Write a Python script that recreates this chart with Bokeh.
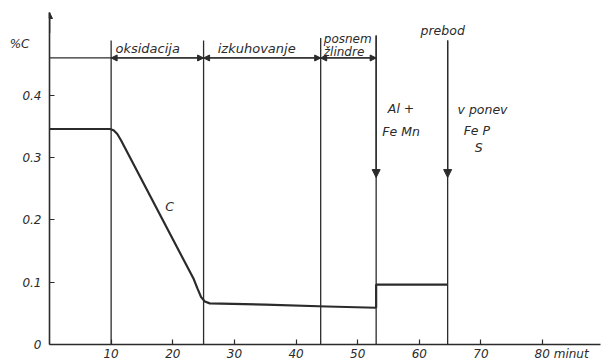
from bokeh.plotting import figure
from bokeh.models import Range1d, FixedTicker, LinearAxis, Arrow, NormalHead, ColumnDataSource
from bokeh.core.properties import value
from bokeh.embed import file_html
from bokeh.resources import INLINE

# ---- data ----
minutes = [0, 9.8, 10.4, 11.0, 11.6, 23.4, 24.0, 24.6, 25.2, 26.0, 35, 45, 53]
carbon = [0.346, 0.346, 0.344, 0.338, 0.328, 0.105, 0.090, 0.076, 0.069, 0.066, 0.064, 0.061, 0.059]
step_minutes = [53, 53, 64.6]
step_carbon = [0.059, 0.096, 0.096]

boundaries = [10, 25, 44, 53, 64.6]
boundary_tops = [0.488, 0.488, 0.492, 0.496, 0.488]
phase_line_y = 0.46
phase_start = [10, 25, 44]
phase_end = [25, 44, 53]
phase_labels = ["oksidacija", "izkuhovanje", "posnem", "žlindre"]
phase_label_x = [10.7, 27.3, 44.5, 44.5]
phase_label_y = [0.463, 0.463, 0.491, 0.470]

addition_minutes = [53, 64.6]
addition_arrow_y = 0.268

notes = ["prebod", "Al +", "Fe Mn", "v ponev", "Fe P", "S", "C"]
note_x = [60.2, 54.9, 54.0, 66.2, 67.2, 69.0, 18.8]
note_y = [0.504, 0.379, 0.342, 0.378, 0.344, 0.317, 0.221]

x_ticks = [10, 20, 30, 40, 50, 60, 70, 80]
x_tick_labels = {80: "\u00a0" * 10 + "80 minut"}
y_ticks = [0, 0.1, 0.2, 0.3, 0.4]
y_tick_labels = {0: "0", 0.1: "0.1", 0.2: "0.2", 0.3: "0.3", 0.4: "0.4"}
y_unit_tick = [0.483]
y_unit_label = {0.483: "%C"}

INK = "#2b2b2b"
FONT = "DejaVu Sans"

p = figure(width=609, height=363, output_backend="svg", toolbar_location=None,
           x_range=Range1d(0, 89.4), y_range=Range1d(0, 0.533),
           min_border_left=49, min_border_right=9, min_border_top=12, min_border_bottom=18)
p.outline_line_color = None
p.grid.visible = False
p.background_fill_color = "white"
p.border_fill_color = "white"


def style_axis(ax):
    ax.axis_line_color = INK
    ax.axis_line_width = 1.6
    ax.major_tick_line_color = INK
    ax.major_tick_line_width = 1.2
    ax.major_tick_in = 5
    ax.major_tick_out = 0
    ax.minor_tick_line_color = None
    ax.major_label_text_font = FONT
    ax.major_label_text_font_style = "italic"
    ax.major_label_text_font_size = "12px"
    ax.major_label_text_color = INK


style_axis(p.xaxis[0])
style_axis(p.yaxis[0])
p.xaxis.ticker = FixedTicker(ticks=x_ticks)
p.xaxis.major_label_overrides = x_tick_labels
p.xaxis.major_label_standoff = 2
p.yaxis[0].ticker = FixedTicker(ticks=y_ticks)
p.yaxis[0].major_label_overrides = y_tick_labels
p.yaxis[0].major_label_standoff = 8

# unit label "%C" as a tick-less second left axis
unit_axis = LinearAxis(ticker=FixedTicker(ticks=y_unit_tick), major_label_overrides=y_unit_label)
style_axis(unit_axis)
unit_axis.axis_line_color = None
unit_axis.major_tick_line_color = None
unit_axis.major_label_standoff = -10
p.add_layout(unit_axis, "left")

# vertical phase lines
p.segment(x0=boundaries, y0=[0] * len(boundaries), x1=boundaries, y1=boundary_tops,
          line_color=INK, line_width=1.3)
# horizontal phase line
p.segment(x0=[0], y0=[phase_line_y], x1=[phase_end[-1]], y1=[phase_line_y],
          line_color=INK, line_width=1.3)

# double-headed phase arrows
phase_src = ColumnDataSource(dict(x0=phase_start, x1=phase_end, y=[phase_line_y] * len(phase_start)))
p.add_layout(Arrow(source=phase_src, x_start="x0", y_start="y", x_end="x1", y_end="y",
                   line_color=INK, line_width=1.3,
                   start=NormalHead(size=6, fill_color=INK, line_color=INK),
                   end=NormalHead(size=6, fill_color=INK, line_color=INK)))

# downward arrows for additions
for xm, top in zip(addition_minutes, boundary_tops[3:]):
    p.add_layout(Arrow(x_start=xm, y_start=top, x_end=xm, y_end=addition_arrow_y,
                       line_color=INK, line_width=1.3,
                       end=NormalHead(size=8, fill_color=INK, line_color=INK)))

# carbon curve
p.line(minutes, carbon, line_color=INK, line_width=2.2, line_join="round")
p.line(step_minutes, step_carbon, line_color=INK, line_width=2.2)

# y-axis arrow head
p.add_layout(Arrow(x_start=0, y_start=0.5, x_end=0, y_end=0.533, line_color=INK, line_width=1.6,
                   end=NormalHead(size=6, fill_color=INK, line_color=INK)))

# phase labels
p.text(x=phase_label_x[:2], y=phase_label_y[:2], text=phase_labels[:2],
       text_font=value(FONT), text_font_style="italic", text_font_size="13px",
       text_color=INK, text_align="left", text_baseline="bottom")
p.text(x=phase_label_x[2:], y=phase_label_y[2:], text=phase_labels[2:],
       text_font=value(FONT), text_font_style="italic", text_font_size="12px",
       text_color=INK, text_align="left", text_baseline="middle")

# notes
p.text(x=note_x, y=note_y, text=notes,
       text_font=value(FONT), text_font_style="italic", text_font_size="12.5px",
       text_color=INK, text_align="left", text_baseline="middle")

open("out.html", "w").write(file_html(p, INLINE))
